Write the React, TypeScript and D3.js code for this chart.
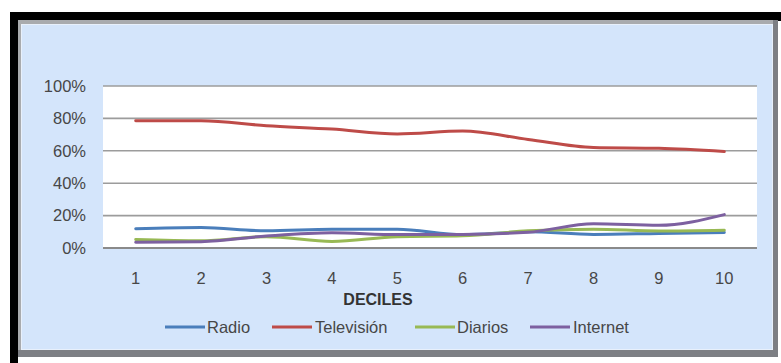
import React from "react";
import * as d3 from "d3";

const deciles = ["1", "2", "3", "4", "5", "6", "7", "8", "9", "10"];
const radio = [11.9, 12.6, 10.6, 11.5, 11.5, 8.2, 10.0, 8.4, 9.0, 9.6];
const television = [78.6, 78.5, 75.5, 73.4, 70.4, 72.2, 67.0, 62.0, 61.5, 59.5];
const diarios = [5.2, 4.4, 7.0, 4.0, 7.0, 7.5, 10.6, 11.6, 10.5, 11.0];
const internet = [3.6, 3.9, 7.4, 9.4, 8.3, 8.4, 9.7, 15.0, 14.0, 20.6];
const yTicks = [0, 20, 40, 60, 80, 100];

const seriesNames = ["Radio", "Televisión", "Diarios", "Internet"];
const seriesValues = [radio, television, diarios, internet];
const seriesColors = ["#4a7ebb", "#be4b48", "#98b954", "#7d60a0"];

const W = 781;
const H = 363;
const plot = { left: 103, right: 757, top: 86, bottom: 248 };
const font = "'Liberation Sans', Arial, sans-serif";
const textColor = "#474747";

export default function App() {
  const x = d3
    .scalePoint<string>()
    .domain(deciles)
    .range([plot.left, plot.right])
    .padding(0.5);
  const y = d3.scaleLinear().domain([0, 100]).range([plot.bottom, plot.top]);

  const line = d3
    .line<number>()
    .x((_, i) => x(deciles[i]) as number)
    .y((d) => y(d))
    .curve(d3.curveMonotoneX);

  const legendItems = [
    { lineX: 165, textX: 207 },
    { lineX: 272, textX: 315 },
    { lineX: 415, textX: 457 },
    { lineX: 530, textX: 573 },
  ];
  const legendY = 327;

  return (
    <svg
      width={W}
      height={H}
      style={{ position: "absolute", left: 0, top: 0, display: "block" }}
    >
      <rect x={0} y={0} width={W} height={H} fill="#ffffff" />
      {/* black frame, top and left */}
      <rect x={10} y={12} width={W - 10} height={9} fill="#000" />
      <rect x={10} y={12} width={8} height={H - 12} fill="#000" />

      {/* panel with bevelled border */}
      <rect x={18} y={20} width={760} height={337} fill="#7d7f84" />
      <rect x={18} y={20} width={755} height={330} fill="#a9abae" />
      <rect x={21} y={24} width={752} height={326} fill="#e8f0fb" />
      <rect x={22} y={25} width={750} height={324} fill="#d4e5fb" />

      {/* plot area */}
      <rect
        x={plot.left}
        y={plot.top}
        width={plot.right - plot.left}
        height={plot.bottom - plot.top}
        fill="#ffffff"
      />
      {yTicks.map((t) => (
        <line
          key={t}
          x1={plot.left}
          x2={plot.right}
          y1={y(t)}
          y2={y(t)}
          stroke={t === 0 ? "#8a8a8a" : "#9c9c9c"}
          strokeWidth={t === 0 ? 2.2 : 1.6}
        />
      ))}
      {yTicks.map((t) => (
        <text
          key={"l" + t}
          x={86}
          y={y(t)}
          dy="0.35em"
          textAnchor="end"
          fontFamily={font}
          fontSize={16.5}
          fill={textColor}
        >
          {t + "%"}
        </text>
      ))}
      {deciles.map((d) => (
        <text
          key={"x" + d}
          x={x(d) as number}
          y={278}
          dy="0.35em"
          textAnchor="middle"
          fontFamily={font}
          fontSize={16.5}
          fill={textColor}
        >
          {d}
        </text>
      ))}
      <text
        x={378}
        y={299}
        dy="0.35em"
        textAnchor="middle"
        fontFamily={font}
        fontSize={16}
        fontWeight="bold"
        fill="#333"
      >
        DECILES
      </text>

      {/* series lines */}
      {seriesValues.map((vals, i) => (
        <path
          key={seriesNames[i]}
          d={line(vals) || ""}
          fill="none"
          stroke={seriesColors[i]}
          strokeWidth={3}
          strokeLinejoin="round"
          strokeLinecap="round"
        />
      ))}

      {/* legend */}
      {seriesNames.map((name, i) => (
        <g key={"lg" + name}>
          <line
            x1={legendItems[i].lineX}
            x2={legendItems[i].lineX + 40}
            y1={legendY}
            y2={legendY}
            stroke={seriesColors[i]}
            strokeWidth={3}
          />
          <text
            x={legendItems[i].textX}
            y={legendY}
            dy="0.35em"
            fontFamily={font}
            fontSize={16.5}
            fill={textColor}
          >
            {name}
          </text>
        </g>
      ))}
    </svg>
  );
}
